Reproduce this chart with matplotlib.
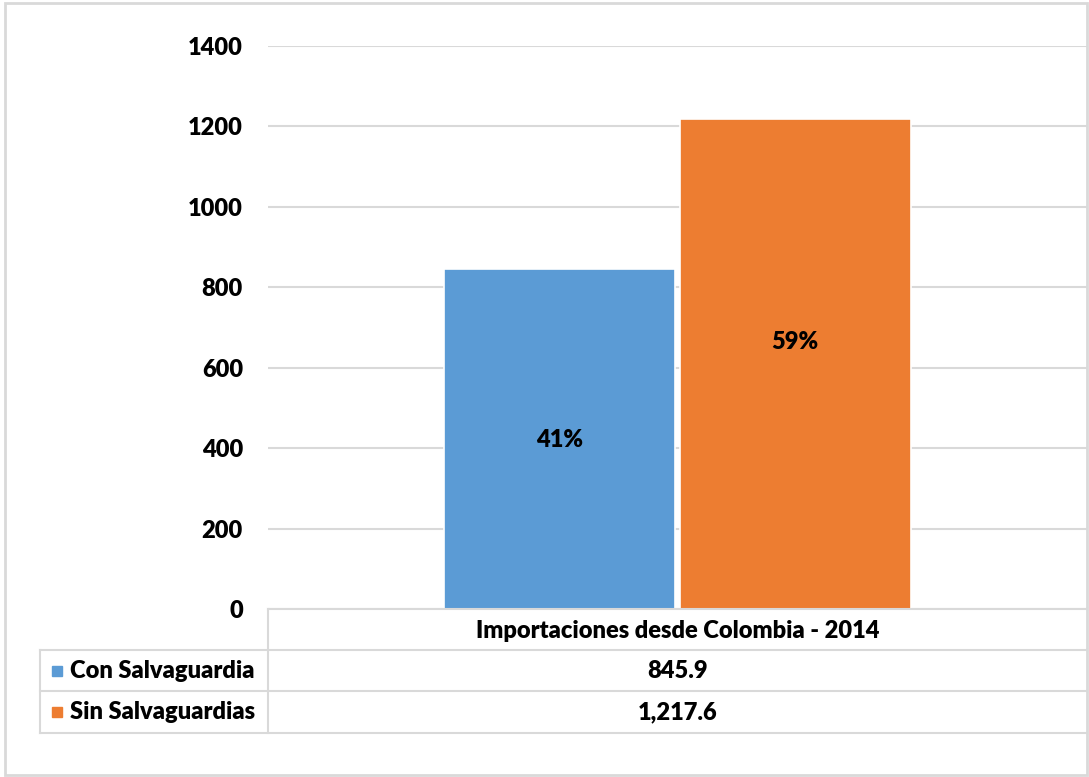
import matplotlib
matplotlib.use("Agg")
import matplotlib.pyplot as plt
from matplotlib.lines import Line2D
from matplotlib.patches import Rectangle

category = "Importaciones desde Colombia - 2014"
series_names = ["Con Salvaguardia", "Sin Salvaguardias"]
values = [845.9, 1217.6]
value_labels = ["845.9", "1,217.6"]
pct_labels = ["41%", "59%"]
pct_label_y = [420, 665]
yticks = [0, 200, 400, 600, 800, 1000, 1200, 1400]
colors = ["#5B9BD5", "#ED7D31"]

plt.rcParams['font.family'] = ['Lato', 'DejaVu Sans']

W, H = 1089, 777
fig = plt.figure(figsize=(W / 100, H / 100), dpi=100)
grid_c = "#D9D9D9"
FS = 17
FW = "heavy"

def fx(px):
    return px / W

def fy(py):
    return 1 - py / H

ax = fig.add_axes([fx(268), fy(609), fx(1087) - fx(268), fy(46) - fy(609)])
offsets = [-0.1435, 0.1435]
for i, v in enumerate(values):
    ax.bar(offsets[i], v, width=0.282, color=colors[i], edgecolor="white", linewidth=1.2, zorder=3)
    ax.text(offsets[i], pct_label_y[i], pct_labels[i], ha="center", va="center",
            fontsize=FS, fontweight=FW, color="black", zorder=4)
ax.set_xlim(-0.5, 0.5)
ax.set_ylim(0, 1400)
ax.set_yticks(yticks)
ax.set_yticklabels([str(t) for t in yticks], fontsize=FS, fontweight=FW)
ax.tick_params(axis="y", length=0, pad=18)
ax.set_xticks([])
ax.grid(axis="y", color=grid_c, linewidth=1.5, zorder=0)
for s in ax.spines.values():
    s.set_visible(False)

# outer frame
fig.add_artist(Rectangle((fx(5), fy(775)), fx(1087) - fx(5), fy(3) - fy(775),
                         transform=fig.transFigure, fill=False, edgecolor=grid_c, linewidth=2))

# data table
def hline(y, x0, x1):
    fig.add_artist(Line2D([fx(x0), fx(x1)], [fy(y), fy(y)], transform=fig.transFigure,
                          color=grid_c, linewidth=1.5))

def vline(x, y0, y1):
    fig.add_artist(Line2D([fx(x), fx(x)], [fy(y0), fy(y1)], transform=fig.transFigure,
                          color=grid_c, linewidth=1.5))

hline(609, 268, 1087)
hline(650, 40, 1087)
hline(691, 40, 1087)
hline(733, 40, 1087)
vline(268, 609, 733)
vline(40, 650, 733)

fig.text(fx(678), fy(631), category, ha="center", va="center", fontsize=FS, fontweight=FW)
row_y = [671, 712]
for i, name in enumerate(series_names):
    fig.add_artist(Rectangle((fx(52), fy(row_y[i] + 5)), fx(10), fy(0) - fy(10),
                             transform=fig.transFigure, color=colors[i]))
    fig.text(fx(70), fy(row_y[i]), name, ha="left", va="center", fontsize=FS, fontweight=FW)
    fig.text(fx(678), fy(row_y[i]), value_labels[i], ha="center", va="center",
             fontsize=FS, fontweight=FW)

fig.savefig("out.png", dpi=100, facecolor="white")
